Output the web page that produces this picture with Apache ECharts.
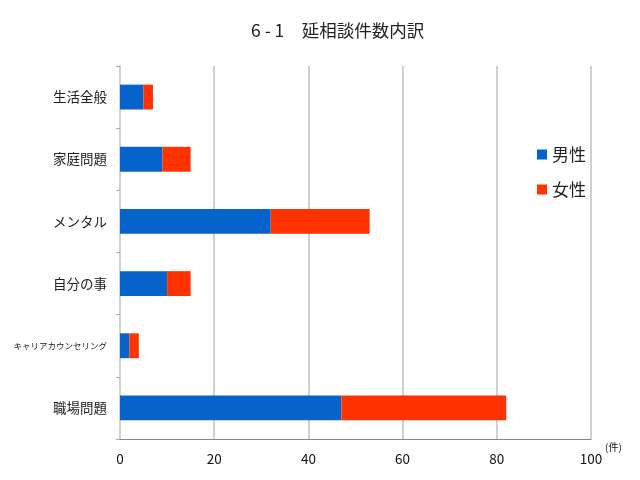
<!DOCTYPE html>
<html><head><meta charset="utf-8">
<script src="https://cdn.jsdelivr.net/npm/echarts@6/dist/echarts.min.js"></script>
<style>html,body{margin:0;padding:0;background:#fff}#c{width:640px;height:480px}</style>
</head><body><div id="c"></div>
<script>
var categories = ['生活全般', '家庭問題', 'メンタル', '自分の事', 'キャリアカウンセリング', '職場問題'];
var male = [5, 9, 32, 10, 2, 47];
var female = [2, 6, 21, 5, 2, 35];
var xTicks = [0, 20, 40, 60, 80, 100];

var font = '"Noto Sans CJK JP", sans-serif';
var chart = echarts.init(document.getElementById('c'));
chart.setOption({
  animation: false,
  textStyle: {fontFamily: font},
  title: {
    text: '6 - 1　延相談件数内訳', left: 246, top: 17,
    textStyle: {fontFamily: font, fontSize: 17.5, fontWeight: 'normal', color: '#222'}
  },
  legend: {
    orient: 'vertical', left: 532, top: 141, itemGap: 18,
    icon: 'rect', itemWidth: 10, itemHeight: 10,
    textStyle: {fontFamily: font, fontSize: 17, color: '#222'},
    data: ['男性', '女性']
  },
  grid: {left: 120, right: 49, top: 66, bottom: 41, containLabel: false},
  xAxis: {
    type: 'value', min: xTicks[0], max: xTicks[xTicks.length - 1], interval: 20,
    axisLine: {show: true, lineStyle: {color: '#888', width: 1}},
    axisTick: {show: false},
    axisLabel: {fontFamily: font, fontSize: 13.5, color: '#111', margin: 13},
    splitLine: {show: true, lineStyle: {color: '#d0d0d0', width: 2}},
    name: '(件)', nameLocation: 'end', nameGap: 14,
    nameTextStyle: {fontFamily: font, fontSize: 10, color: '#111', verticalAlign: 'top', padding: [3, 0, 0, 0]}
  },
  yAxis: {
    type: 'category', data: categories, inverse: true,
    axisLine: {show: true, lineStyle: {color: '#d0d0d0', width: 2}},
    axisTick: {show: true, length: 4, lineStyle: {color: '#aaa'}},
    axisLabel: {
      fontFamily: font, fontSize: 13.5, color: '#222', margin: 13,
      formatter: function (v) { return v.length > 6 ? '{s|' + v + '}' : v; },
      rich: {s: {fontFamily: font, fontSize: 8.5, color: '#222'}}
    }
  },
  series: [
    {name: '男性', type: 'bar', stack: 't', data: male, barWidth: '40%',
     itemStyle: {color: '#0563CB'}},
    {name: '女性', type: 'bar', stack: 't', data: female, barWidth: '40%',
     itemStyle: {color: '#FF3300'}}
  ]
});
</script></body></html>
